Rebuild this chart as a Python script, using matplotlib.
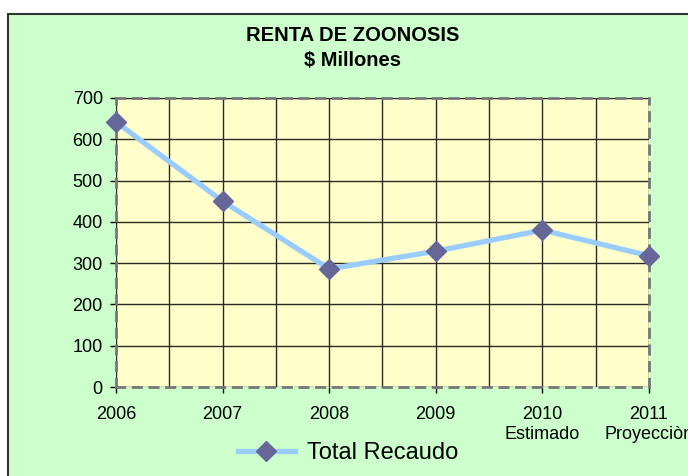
import matplotlib.pyplot as plt
from matplotlib.patches import Rectangle

# data
years = [2006, 2007, 2008, 2009, 2010, 2011]
sublabels = ['', '', '', '', 'Estimado', 'Proyecciòn']
recaudo = [642, 450, 286, 329, 380, 318]
series_name = 'Total Recaudo'
title = 'RENTA DE ZOONOSIS\n$ Millones'

plt.rcParams['font.family'] = ['Liberation Sans', 'DejaVu Sans']

fig = plt.figure(figsize=(6.88, 4.76), dpi=100)
fig.patch.set_facecolor('white')

# green chart area with dark border (behind the axes)
bg = Rectangle((8 / 688, -0.01), 1.0, 1.01 - 14 / 476, transform=fig.transFigure,
               facecolor='#CCFFCC', edgecolor='#333333', linewidth=1.5, zorder=-1)
fig.patches.append(bg)

ax = fig.add_axes([116 / 688, 1 - 387 / 476, 533 / 688, 289 / 476])
ax.set_facecolor('#FFFFCC')

ax.plot(years, recaudo, color='#99CCFF', linewidth=3.8, marker='D',
        markersize=10, markerfacecolor='#666699', markeredgecolor='#666699',
        label=series_name, zorder=3, clip_on=False)

ax.set_xlim(2006, 2011)
ax.set_ylim(0, 700)
ax.set_yticks(range(0, 701, 100))
ax.set_xticks(years)
ax.set_xticks([y + 0.5 for y in years[:-1]], minor=True)
ax.set_xticklabels([str(y) + ('\n' + s if s else '') for y, s in zip(years, sublabels)],
                   fontsize=13, linespacing=1.2)
ax.tick_params(axis='x', which='major', length=4, width=1, direction='out', pad=10)
ax.tick_params(axis='x', which='minor', length=0)
ax.tick_params(axis='y', length=4.5, width=1, direction='out', pad=5, labelsize=13)

ax.grid(True, which='major', color='#2a2a22', linewidth=1)
ax.grid(True, which='minor', axis='x', color='#2a2a22', linewidth=1)
ax.set_axisbelow(True)

for sp in ax.spines.values():
    sp.set_linestyle((0, (3, 3)))
    sp.set_color('#777777')
    sp.set_linewidth(2)
    sp.set_zorder(2)

fig.text(353 / 688, 1 - 48 / 476, title, ha='center', va='center',
         fontsize=14.5, fontweight='bold', linespacing=1.35)

fig.legend(loc='center', bbox_to_anchor=(348 / 688, 1 - 453 / 476),
           frameon=False, fontsize=17, handlelength=2.4, handletextpad=0.5,
           borderaxespad=0, borderpad=0)

fig.savefig('out.png', dpi=100)
